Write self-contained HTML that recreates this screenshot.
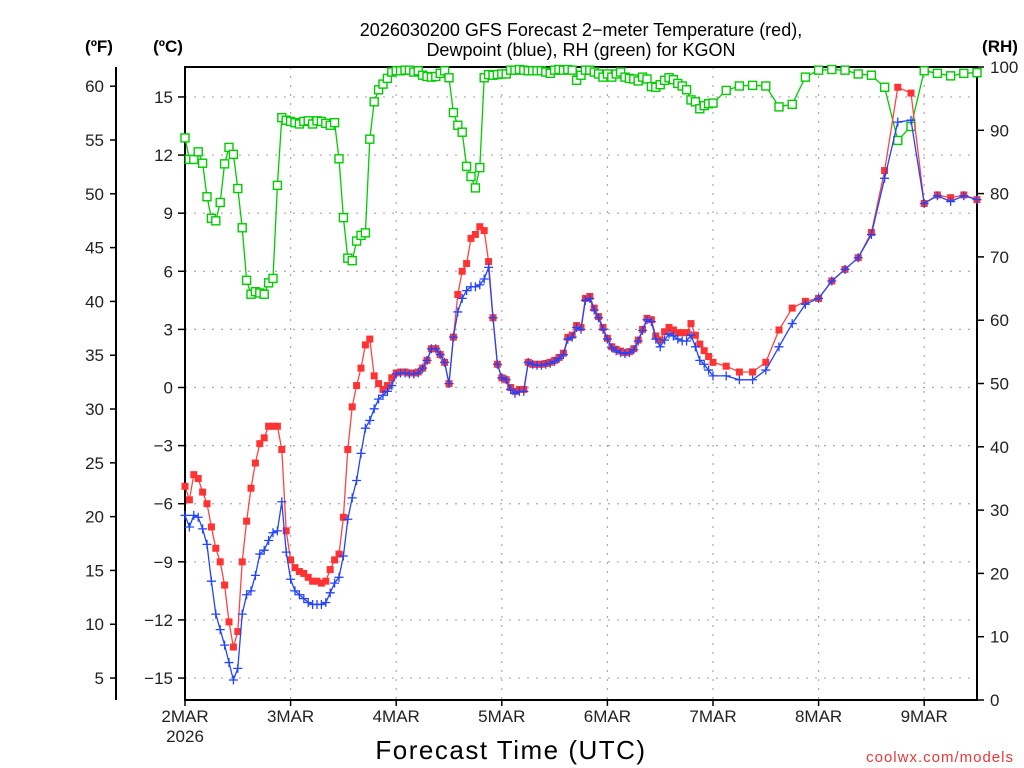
<!DOCTYPE html>
<html><head><meta charset="utf-8"><style>
body{margin:0;background:#fff;}
svg{display:block;font-family:"Liberation Sans","DejaVu Sans",sans-serif;}
</style></head><body>
<svg id="chart" width="1024" height="768" viewBox="0 0 1024 768" xmlns="http://www.w3.org/2000/svg">
<rect width="1024" height="768" fill="#fff"/>
<g id="grid"></g>
<g id="axes"></g>
<g id="series"></g>
<text x="581" y="36" font-size="18" text-anchor="middle">2026030200 GFS Forecast 2−meter Temperature (red),</text>
<text x="581" y="56" font-size="18" text-anchor="middle">Dewpoint (blue), RH (green) for KGON</text>
<text x="99" y="52" font-size="17" font-weight="bold" text-anchor="middle">(ºF)</text>
<text x="168" y="52" font-size="17" font-weight="bold" text-anchor="middle">(ºC)</text>
<text x="1000" y="52" font-size="17" font-weight="bold" text-anchor="middle">(RH)</text>
<text x="511" y="759" font-size="26" letter-spacing="1.5" text-anchor="middle">Forecast Time (UTC)</text>
<text x="1014" y="762" font-size="15" fill="#e83838" text-anchor="end" letter-spacing="1">coolwx.com/models</text>
</svg>
<script>
const hours=[0,1,2,3,4,5,6,7,8,9,10,11,12,13,14,15,16,17,18,19,20,21,22,23,24,25,26,27,28,29,30,31,32,33,34,35,36,37,38,39,40,41,42,43,44,45,46,47,48,49,50,51,52,53,54,55,56,57,58,59,60,61,62,63,64,65,66,67,68,69,70,71,72,73,74,75,76,77,78,79,80,81,82,83,84,85,86,87,88,89,90,91,92,93,94,95,96,97,98,99,100,101,102,103,104,105,106,107,108,109,110,111,112,113,114,115,116,117,118,119,120,123,126,129,132,135,138,141,144,147,150,153,156,159,162,165,168,171,174,177,180];
const tempC=[-5.1,-5.8,-4.5,-4.7,-5.4,-6.0,-7.2,-8.3,-9.0,-10.2,-12.1,-13.4,-12.6,-9.0,-6.9,-5.2,-3.9,-2.9,-2.6,-2.0,-2.0,-2.0,-3.2,-7.4,-8.9,-9.3,-9.5,-9.6,-9.8,-10.0,-10.0,-10.1,-10.0,-9.4,-8.9,-8.6,-6.7,-3.2,-1.0,0.1,1.0,2.2,2.5,0.6,0.2,-0.1,0.1,0.5,0.75,0.8,0.8,0.75,0.75,0.8,1.0,1.4,2.0,2.0,1.7,1.3,0.2,2.6,4.8,6.0,6.4,7.7,7.9,8.3,8.1,6.5,3.6,1.2,0.5,0.4,0.0,-0.2,-0.1,-0.1,1.3,1.2,1.2,1.2,1.24,1.3,1.4,1.55,1.77,2.59,2.7,3.2,3.1,4.6,4.7,4.1,3.66,3.1,2.54,2.1,1.97,1.88,1.8,1.85,2.0,2.45,3.0,3.57,3.5,2.66,2.45,2.88,3.1,2.97,2.83,2.83,2.83,3.3,2.7,2.24,1.9,1.6,1.3,1.1,0.8,0.8,1.3,2.97,4.1,4.45,4.6,5.5,6.1,6.7,8.0,11.2,15.5,15.2,9.5,9.94,9.8,9.94,9.7];
const dewC=[-6.6,-7.2,-6.6,-6.7,-7.3,-8.1,-10.0,-11.7,-12.5,-13.3,-14.2,-15.1,-14.5,-11.7,-10.7,-10.5,-9.7,-8.6,-8.4,-7.9,-7.5,-7.4,-5.9,-8.5,-9.9,-10.5,-10.7,-10.9,-11.1,-11.2,-11.2,-11.2,-11.1,-10.6,-10.1,-9.8,-8.7,-6.8,-5.7,-4.8,-3.4,-2.1,-1.7,-1.1,-0.6,-0.4,-0.2,0.1,0.7,0.75,0.75,0.7,0.7,0.75,1.0,1.4,2.0,2.0,1.7,1.3,0.2,2.6,3.9,4.6,5.0,5.2,5.2,5.3,5.6,6.2,3.6,1.2,0.5,0.4,-0.1,-0.3,-0.2,-0.2,1.3,1.2,1.15,1.15,1.2,1.25,1.35,1.5,1.7,2.5,2.6,3.1,3.0,4.5,4.6,4.0,3.6,3.0,2.5,2.05,1.9,1.8,1.75,1.8,1.95,2.4,2.95,3.5,3.4,2.5,2.1,2.45,2.76,2.66,2.5,2.4,2.4,2.7,2.1,1.4,1.2,0.9,0.6,0.6,0.4,0.4,0.9,2.1,3.3,4.3,4.6,5.5,6.1,6.7,7.9,10.8,13.7,13.8,9.5,9.9,9.6,9.9,9.7];
const rhPct=[88.8,85.4,85.4,86.6,84.8,79.5,76.1,75.7,78.6,84.7,87.3,86.2,80.8,74.6,66.3,64.1,64.5,64.3,64.1,65.9,66.6,81.3,92.0,91.6,91.4,91.2,91.0,91.4,91.5,91.0,91.5,91.4,91.1,90.8,91.2,85.5,76.2,69.8,69.4,72.5,73.4,73.8,88.6,94.5,96.4,97.3,98.2,99.2,99.4,99.4,99.5,99.5,99.2,99.4,98.7,98.5,98.4,98.5,99.0,99.4,98.3,92.8,90.8,89.7,84.3,82.7,80.9,84.1,98.3,98.8,98.7,98.8,98.9,98.9,99.5,99.5,99.6,99.5,99.4,99.4,99.4,99.4,99.2,99.0,99.5,99.6,99.5,99.6,99.5,97.9,98.7,99.5,99.5,99.2,98.9,98.4,98.9,98.4,98.9,99.2,98.4,98.2,98.1,97.8,98.4,98.1,96.9,96.8,97.2,97.9,98.3,98.0,97.4,97.0,96.4,94.8,94.5,93.4,93.9,94.2,94.3,96.3,97.0,97.1,97.0,93.7,94.1,98.4,99.5,99.6,99.5,98.9,98.7,96.8,88.4,90.6,99.4,99.0,98.6,99.0,99.1];
const dayLabels=["2MAR","3MAR","4MAR","5MAR","6MAR","7MAR","8MAR","9MAR"];
const cTicks=[-15,-12,-9,-6,-3,0,3,6,9,12,15];
const fTicks=[5,10,15,20,25,30,35,40,45,50,55,60];
const rhTicks=[0,10,20,30,40,50,60,70,80,90,100];

const NS="http://www.w3.org/2000/svg";
const L=185,R=977,T=67,B=700;
const xS=h=>L+h*(R-L)/180;
const yC=c=>387.5-c*19.37;
const yF=f=>yC((f-32)*5/9);
const yRH=r=>B-r*(B-T)/100;
function mk(tag,attrs,parent){const e=document.createElementNS(NS,tag);for(const k in attrs)e.setAttribute(k,attrs[k]);parent.appendChild(e);return e;}
const grid=document.getElementById('grid'),axes=document.getElementById('axes'),ser=document.getElementById('series');

cTicks.forEach(c=>{
  const y=yC(c);
  const g=mk('line',{x1:L,x2:R,y1:y,y2:y,stroke:'#aaa','stroke-width':1.2,'stroke-dasharray':'2,7'},grid);
  
  
  const t=mk('line',{x1:L-7,x2:L,y1:y,y2:y,stroke:'#000','stroke-width':1.5},axes);
  
  
  const lb=mk('text',{x:L-12,y:y+6,'font-size':17,'text-anchor':'end',fill:'#222'},axes);
  lb.textContent=c<0?'−'+Math.abs(c):String(c);
  
  
});
dayLabels.forEach((d,i)=>{
  const x=xS(i*24);
  if(i>0){const g=mk('line',{x1:x,x2:x,y1:T,y2:B,stroke:'#aaa','stroke-width':1.2,'stroke-dasharray':'2,7'},grid);
  
  }
  const t=mk('line',{x1:x,x2:x,y1:B,y2:B+6,stroke:'#000','stroke-width':1.5},axes);
  
  
  const lb=mk('text',{x:x,y:722,'font-size':17,'text-anchor':'middle',fill:'#222'},axes);
  lb.textContent=d;
  
  
});
const yr=mk('text',{x:xS(0),y:742,'font-size':17,'text-anchor':'middle',fill:'#222'},axes);
yr.textContent='2026';



const fl=mk('line',{x1:116,x2:116,y1:T,y2:B,stroke:'#000','stroke-width':2},axes);


fTicks.forEach(f=>{
  const y=yF(f);
  const t=mk('line',{x1:110,x2:116,y1:y,y2:y,stroke:'#000','stroke-width':1.5},axes);
  
  
  const lb=mk('text',{x:104,y:y+6,'font-size':17,'text-anchor':'end',fill:'#222'},axes);
  lb.textContent=String(f);
  
  
});
rhTicks.forEach(r=>{
  const y=yRH(r);
  const t=mk('line',{x1:R,x2:R+7,y1:y,y2:y,stroke:'#000','stroke-width':1.5},axes);
  
  
  const lb=mk('text',{x:990,y:y+6,'font-size':17,'text-anchor':'start',fill:'#222'},axes);
  lb.textContent=String(r);
  
  
});
const frame=mk('path',{d:`M${L},${T}H${R}V${B}H${L}Z`,fill:'none',stroke:'#000','stroke-width':2},axes);



function linePath(vals,yf){return vals.map((v,i)=>(i?'L':'M')+xS(hours[i]).toFixed(1)+','+yf(v).toFixed(1)).join('');}
const gl=mk('path',{d:linePath(rhPct,yRH),fill:'none',stroke:'#00cc00','stroke-width':1.3},ser);


rhPct.forEach((v,i)=>{
  const m=mk('rect',{x:xS(hours[i])-4,y:yRH(v)-4,width:8,height:8,fill:'#fff',stroke:'#00cc00','stroke-width':1.4},ser);
  
  
});
const rl=mk('path',{d:linePath(tempC,yC),fill:'none',stroke:'#f44','stroke-width':1.3},ser);


tempC.forEach((v,i)=>{
  const m=mk('rect',{x:xS(hours[i])-3.5,y:yC(v)-3.5,width:7,height:7,fill:'#f33'},ser);
  
  
});
const bl=mk('path',{d:linePath(dewC,yC),fill:'none',stroke:'#2244ff','stroke-width':1.3},ser);


dewC.forEach((v,i)=>{
  const x=xS(hours[i]),y=yC(v);
  const m=mk('path',{d:`M${x-4.5},${y}H${x+4.5}M${x},${y-4.5}V${y+4.5}`,stroke:'#2244ff','stroke-width':1.3,fill:'none'},ser);
  
  
});
</script>
</body></html>
